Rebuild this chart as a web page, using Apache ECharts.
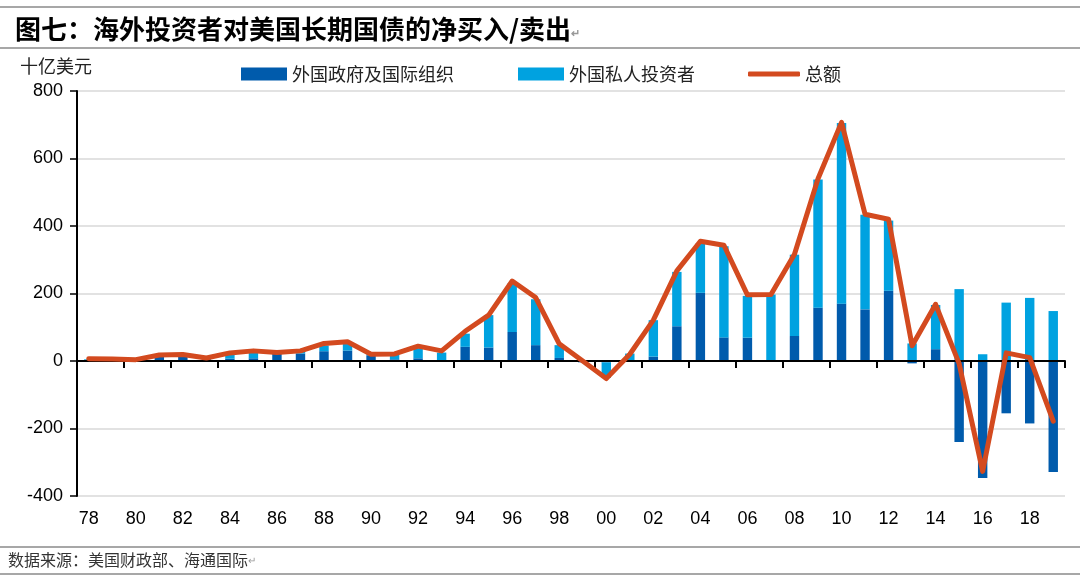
<!DOCTYPE html>
<html>
<head>
<meta charset="utf-8">
<script src="https://cdn.jsdelivr.net/npm/echarts@6/dist/echarts.min.js"></script>
<style>
html,body{margin:0;padding:0;background:#fff;}
#chart{width:1080px;height:582px;}
</style>
</head>
<body>
<div id="chart"></div>
<script>
// Categories: 1978 - 2019 (two-digit labels)
const years = ['78','79','80','81','82','83','84','85','86','87','88','89','90','91','92','93','94','95','96','97','98','99',
               '00','01','02','03','04','05','06','07','08','09','10','11','12','13','14','15','16','17','18','19'];
// 外国政府及国际组织 (十亿美元)
const official = [3,2,1,14,14,3,7,8,22,22,29,31,17,5,8,2,42,40,86,47,9,-4,
                  -4,0,13,103,202,70,69,0,74,158,170,153,208,-7,35,-240,-347,-155,-185,-329];
// 外国私人投资者
const privateInv = [2,2,2,2,4,5,13,16,2,6,17,20,3,15,30,23,39,96,144,136,38,3,
                    -46,22,108,161,147,270,124,197,241,380,535,280,208,52,131,213,20,173,187,148];
// 总额
const total = [7,6,4,18,19,9,24,30,25,30,52,57,20,21,44,30,88,136,237,188,51,0,
               -52,20,121,267,355,343,196,197,316,540,707,435,420,45,168,-8,-327,24,10,-178];

const yTicks = {min:-400, max:800, interval:200};

const C_DARK = '#005BAC';
const C_LIGHT = '#00A2E0';
const C_LINE = '#D34A1F';
const CJK = '"Noto Sans CJK SC", sans-serif';
const NUM = '"Liberation Sans", Arial, sans-serif';

const chart = echarts.init(document.getElementById('chart'), null, {renderer:'canvas'});
const legendText = {fontFamily: CJK, fontSize: 18, color: '#222'};

chart.setOption({
  animation: false,
  backgroundColor: '#fff',
  title: {
    text: '{a|图七：海外投资者对美国长期国债的净买入/卖出}{b|↵}',
    left: 10, top: 11,
    textStyle: {
      rich: {
        a: {fontFamily: CJK, fontSize: 26, fontWeight: 'bold', color: '#000'},
        b: {fontFamily: CJK, fontSize: 11, color: '#999', padding:[8,0,0,0]}
      }
    }
  },
  graphic: [
    {type:'line', shape:{x1:0,y1:7,x2:1080,y2:7}, style:{stroke:'#8a8a8a', lineWidth:1.5}},
    {type:'line', shape:{x1:0,y1:48,x2:1080,y2:48}, style:{stroke:'#8a8a8a', lineWidth:1.5}},
    {type:'line', shape:{x1:0,y1:547,x2:1080,y2:547}, style:{stroke:'#8a8a8a', lineWidth:1.5}},
    {type:'line', shape:{x1:0,y1:574,x2:1080,y2:574}, style:{stroke:'#8a8a8a', lineWidth:1.5}},
    {type:'text', left: 20, top: 57, style:{text:'十亿美元', font:'18px "Noto Sans CJK SC"', fill:'#222'}},
    {type:'text', left: 8, top: 552, style:{
      text:'{a|数据来源：美国财政部、海通国际}{b|↵}',
      rich:{a:{fontFamily: CJK, fontSize:16, fill:'#333'}, b:{fontFamily: CJK, fontSize:10, fill:'#999'}}
    }}
  ],
  legend: [
    {data:['外国政府及国际组织'], left: 236, top: 60, icon: 'rect', itemWidth: 46, itemHeight: 13, textStyle: legendText},
    {data:['外国私人投资者'], left: 513, top: 60, icon: 'rect', itemWidth: 46, itemHeight: 13, textStyle: legendText},
    {data:['总额'], left: 743, top: 60, icon: 'roundRect', itemWidth: 52, itemHeight: 5,
     itemStyle: {color: C_LINE, borderWidth: 0}, textStyle: legendText}
  ],
  grid: {left: 77, right: 15, top: 91, bottom: 86, containLabel: false},
  xAxis: [
    {
      type: 'category', data: years, boundaryGap: true, z: 3,
      axisLine: {onZero: true, lineStyle: {color: '#000', width: 2}},
      axisTick: {show: true, interval: 1, length: 7, lineStyle: {color: '#000', width: 2}},
      axisLabel: {show: false, interval: 1},
      splitLine: {show: false}
    },
    {
      type: 'category', data: years, position: 'bottom', boundaryGap: true,
      axisLine: {show: false, onZero: false},
      axisTick: {show: false},
      axisLabel: {show: true, interval: 1, margin: 14, fontFamily: NUM, fontSize: 18, color: '#000'},
      splitLine: {show: false}
    }
  ],
  yAxis: {
    type: 'value', min: yTicks.min, max: yTicks.max, interval: yTicks.interval,
    axisLine: {show: true, lineStyle: {color: '#000', width: 2}},
    axisTick: {show: true, length: 7, lineStyle: {color: '#000', width: 1.5}},
    axisLabel: {margin: 14, fontFamily: NUM, fontSize: 18, color: '#000'},
    splitLine: {show: true, lineStyle: {color: '#d9d9d9', width: 1.5}}
  },
  series: [
    {name:'外国政府及国际组织', type:'bar', stack:'a', data: official, barWidth:'40%',
     itemStyle:{color: C_DARK}, xAxisIndex:0},
    {name:'外国私人投资者', type:'bar', stack:'a', data: privateInv, barWidth:'40%',
     itemStyle:{color: C_LIGHT}, xAxisIndex:0},
    {name:'总额', type:'line', data: total, symbol:'none', showSymbol:false, z: 5,
     lineStyle:{color: C_LINE, width: 5, cap:'round', join:'round'}, itemStyle:{color: C_LINE}, xAxisIndex:0}
  ]
});
</script>
</body>
</html>
